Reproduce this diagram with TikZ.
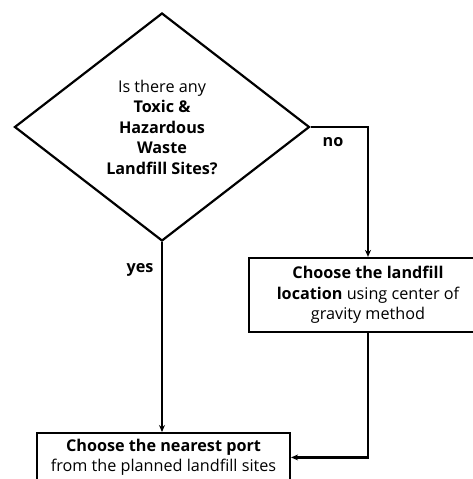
\documentclass[tikz,border=0pt]{standalone}
\usepackage{fontspec}
\setmainfont{Open Sans}
\usetikzlibrary{arrows.meta, shapes.geometric, positioning}
\tikzset{>={Stealth[length=7pt,width=6pt]}}

\begin{document}
\begin{tikzpicture}[x=1pt, y=-1pt, line width=2.2pt,
  every node/.style={font=\fontsize{16.2}{20.5}\selectfont},
  decision/.style={draw, diamond, inner sep=0pt, shape aspect=1.3, minimum width=295pt, minimum height=228pt, align=center},
  stepbox/.style={draw, rectangle, align=center, inner xsep=4pt, inner ysep=6pt},
  lbl/.style={font=\fontsize{16.2}{20.5}\selectfont\bfseries}]
\clip (0,0) rectangle (473,479);

\node[decision] (q) at (162,127) {Is there any\\\textbf{Toxic \&}\\\textbf{Hazardous}\\\textbf{Waste}\\\textbf{Landfill Sites?}};
\node[stepbox, minimum width=238pt, minimum height=74pt] (loc) at (368,295) {\textbf{Choose the landfill}\\\textbf{location} using center of\\gravity method};
\node[stepbox, anchor=north, minimum width=253pt] (port) at (163.5,432) {\textbf{Choose the nearest port}\\from the planned landfill sites};
\coordinate (turn) at (368,127);

\draw[->] (q.east) -- (turn) -- (loc.north);
\draw[->] (q.south) -- (q.south |- port.north);
\draw[->] (loc.south) |- (port.east);

\node[lbl] (no) at (333,142) {no};
\node[lbl] (yes) at (140,270) {yes};
\end{tikzpicture}
\end{document}
